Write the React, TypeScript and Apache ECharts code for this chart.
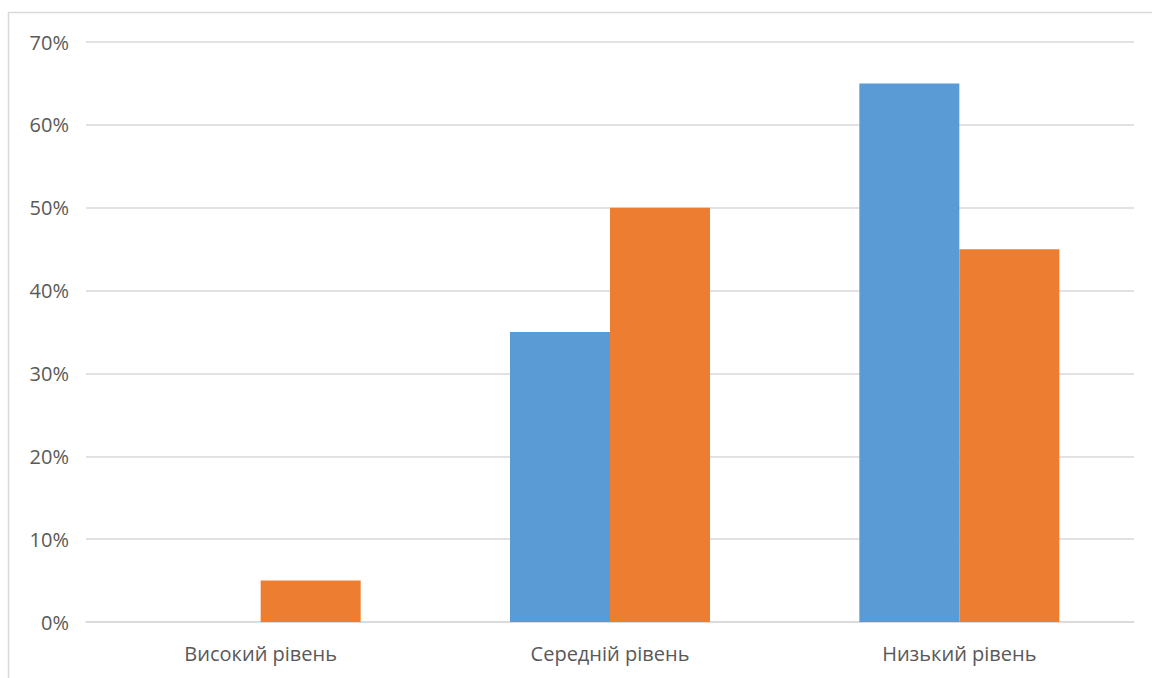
import React, { useEffect, useRef } from "react";
import * as echarts from "echarts";

const categories = ["Високий рівень", "Середній рівень", "Низький рівень"];
const seriesA = [0, 35, 65];
const seriesB = [5, 50, 45];
const yTicks = [0, 10, 20, 30, 40, 50, 60, 70];

export default function App() {
  const ref = useRef<HTMLDivElement>(null);
  useEffect(() => {
    if (!ref.current) return;
    const chart = echarts.init(ref.current, undefined, { renderer: "svg" });
    const font = "'Open Sans', 'Noto Sans', sans-serif";
    chart.setOption({
      animation: false,
      backgroundColor: "#ffffff",
      graphic: [
        {
          type: "rect",
          shape: { x: 8.5, y: 12.5, width: 1160, height: 700 },
          style: { fill: "none", stroke: "#d9d9d9", lineWidth: 1.5 },
          silent: true,
        },
      ],
      grid: { left: 86, right: 18, top: 42, bottom: 56, containLabel: false },
      xAxis: {
        type: "category",
        data: categories,
        axisLine: { show: true, lineStyle: { color: "#d9d9d9", width: 1.5 } },
        axisTick: { show: false },
        axisLabel: { color: "#595959", fontSize: 20, fontFamily: font, margin: 21 },
      },
      yAxis: {
        type: "value",
        min: yTicks[0],
        max: yTicks[yTicks.length - 1],
        interval: 10,
        axisLine: { show: false },
        axisTick: { show: false },
        splitLine: { lineStyle: { color: "#d9d9d9", width: 1.5 } },
        axisLabel: {
          color: "#595959",
          fontSize: 20,
          fontFamily: font,
          margin: 17,
          formatter: (v: number) => `${v}%`,
        },
      },
      series: [
        {
          type: "bar",
          data: seriesA,
          barWidth: 100,
          barGap: "0%",
          itemStyle: { color: "#5b9bd5" },
        },
        {
          type: "bar",
          data: seriesB,
          barWidth: 100,
          barGap: "0%",
          itemStyle: { color: "#ed7d31" },
        },
      ],
    });
    return () => chart.dispose();
  }, []);
  return (
    <div
      ref={ref}
      style={{ position: "fixed", left: 0, top: 0, width: 1152, height: 678 }}
    />
  );
}
